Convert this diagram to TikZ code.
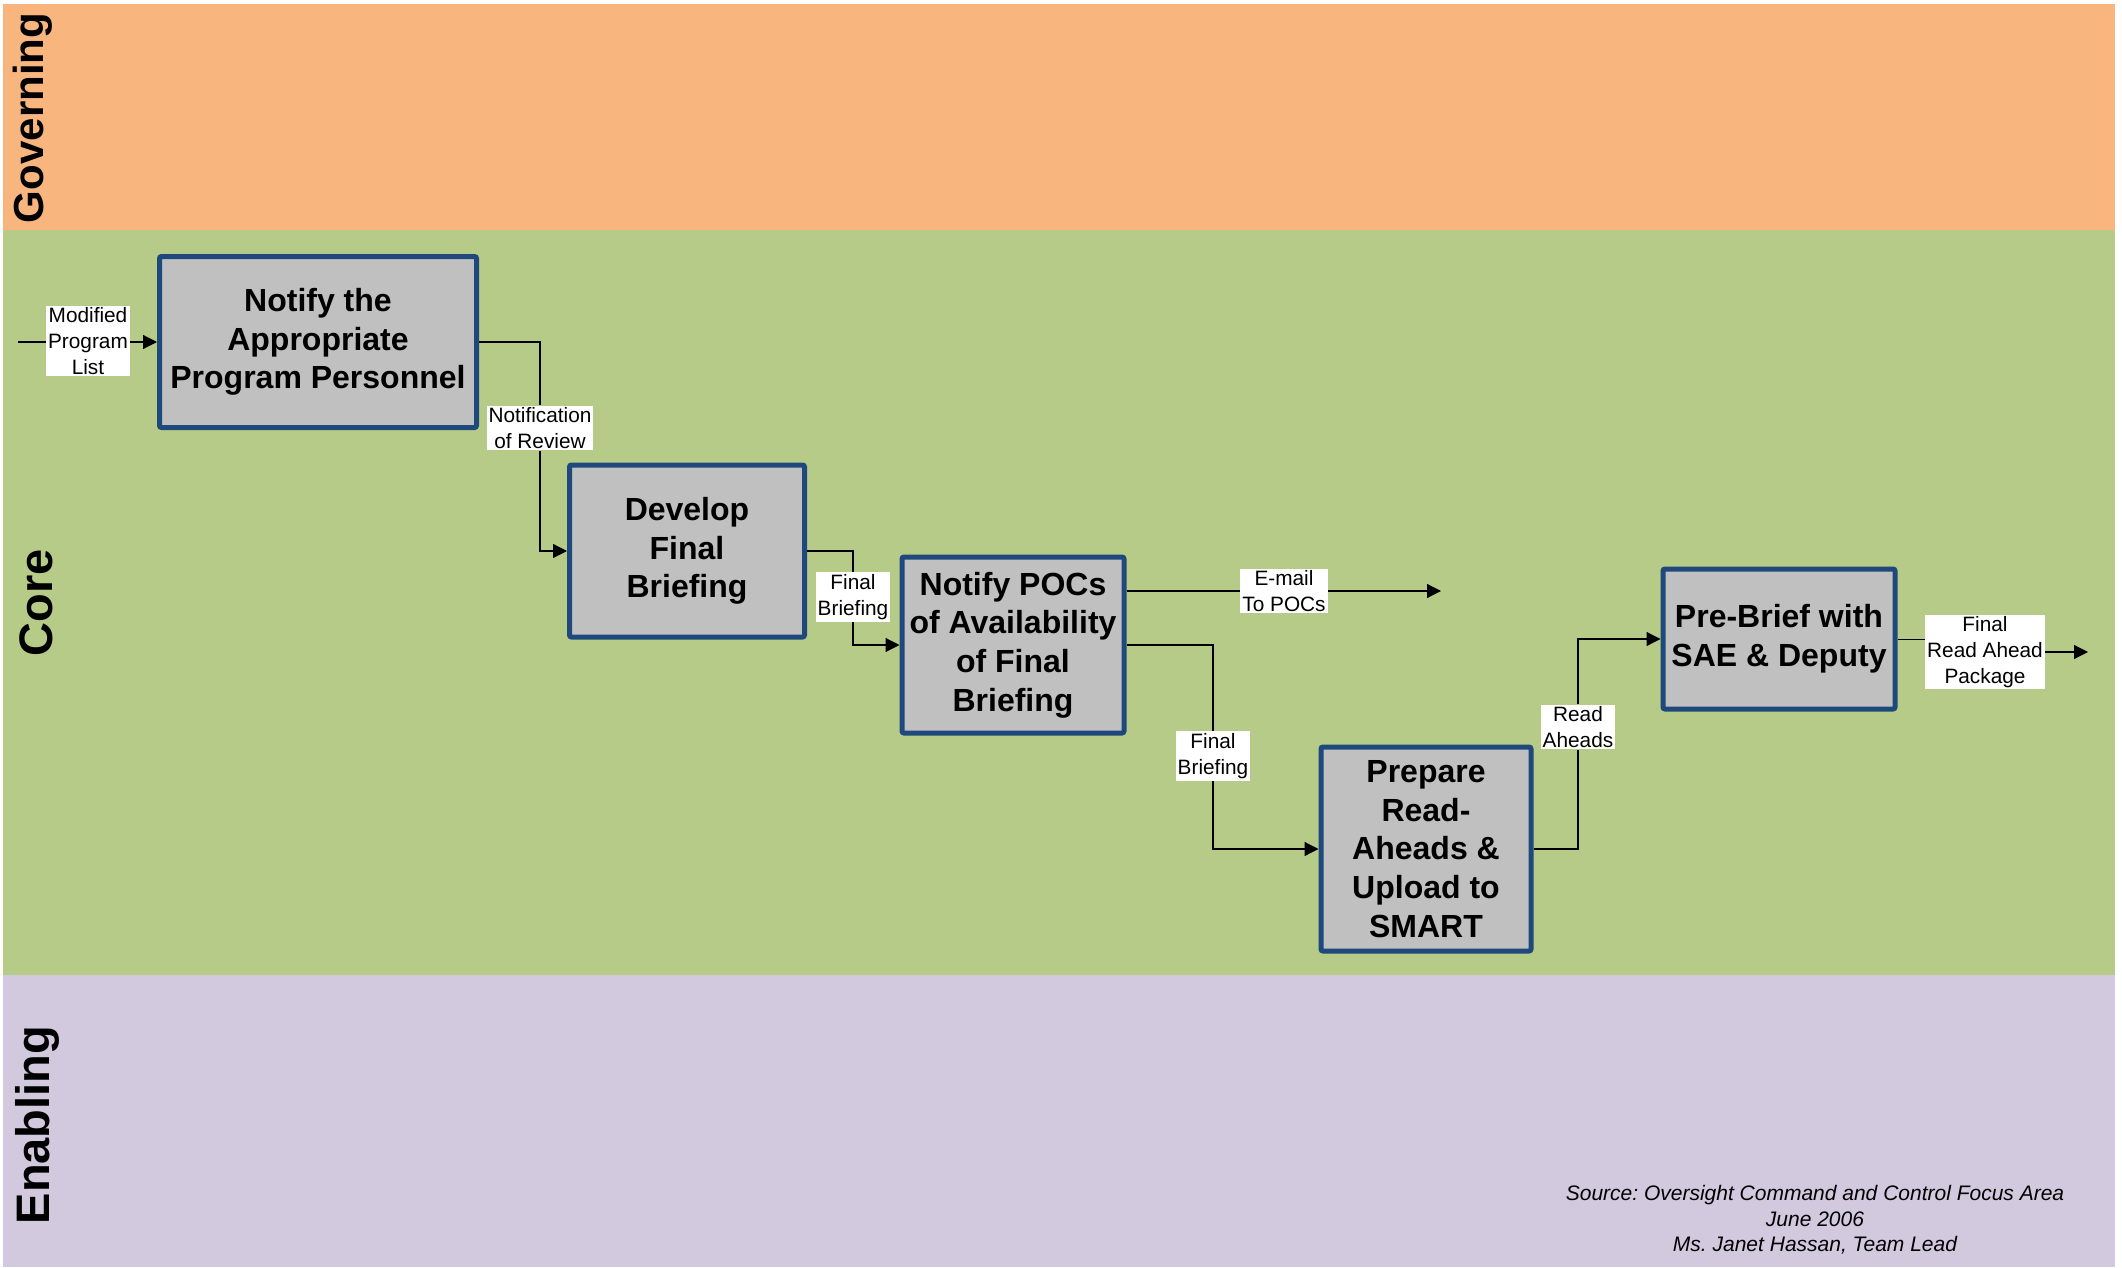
\documentclass[tikz,border=0pt]{standalone}
\usepackage{fontspec}
\setmainfont{Liberation Sans}
\usetikzlibrary{arrows.meta,positioning}
\definecolor{govorange}{RGB}{248,181,126}
\definecolor{coregreen}{RGB}{182,203,136}
\definecolor{enablelilac}{RGB}{210,201,223}
\definecolor{procgray}{RGB}{192,192,192}
\definecolor{procblue}{RGB}{31,73,125}
\pgfdeclarelayer{bands}
\pgfdeclarelayer{wires}
\pgfsetlayers{bands,wires,main}
\frenchspacing
\begin{document}
\begin{tikzpicture}[x=0.5pt,y=0.5pt,yscale=-1,
  proc/.style={draw=procblue,fill=procgray,line width=2.5pt,rounded corners=1pt,align=center,inner sep=0pt,font=\bfseries\fontsize{16}{19.3}\selectfont},
  tag/.style={fill=white,align=center,inner sep=1pt,font=\fontsize{10.4}{12.85}\selectfont},
  lane/.style={rotate=90,inner sep=0pt,font=\bfseries\fontsize{23.5}{24}\selectfont},
  flow/.style={-{Triangle[length=7pt,width=7pt]},line width=0.6pt}]
\begin{pgfonlayer}{bands}
\fill[white] (0,0) rectangle (2122,1268);
\fill[govorange] (3,4) rectangle (2115,230);
\fill[coregreen] (3,230) rectangle (2115,975);
\fill[enablelilac] (3,975) rectangle (2115,1267);
\end{pgfonlayer}
\node[lane,font=\bfseries\fontsize{21}{22}\selectfont] (gov) at (33,118) {Governing};
\node[lane] (core) at (36,603) {Core};
\node[lane] (enab) at (37,1125) {Enabling};
\node[proc,minimum width=158.5pt,minimum height=85.5pt] (notify) at (318,342) {Notify the\\Appropriate\\Program Personnel};
\node[proc,minimum width=117.5pt,minimum height=86pt] (develop) at (687,551) {Develop\\Final\\Briefing};
\node[proc,minimum width=111pt,minimum height=88pt] (notifypoc) at (1013,645) {Notify POCs\\of Availability\\of Final\\Briefing};
\node[proc,minimum width=105pt,minimum height=102pt] (prepare) at (1426,849) {Prepare\\Read-\\Aheads \&\\Upload to\\SMART};
\node[proc,minimum width=116pt,minimum height=70pt] (prebrief) at (1779,639) {Pre-Brief with\\SAE \& Deputy};
\node[tag] (mpl) at (88,341) {Modified\\Program\\List};
\node[tag] (nor) at (540,428) {Notification\\of Review};
\node[tag] (fbA) at (853,597) {Final\\Briefing};
\node[tag] (mail) at (1284,591) {E-mail\\To POCs};
\node[tag] (fbB) at (1213,756) {Final\\Briefing};
\node[tag] (rah) at (1578,727) {Read\\Aheads};
\node[tag] (frap) at (1985,652) {Final\\Read Ahead\\Package};
\coordinate (src) at (18,342);
\coordinate (mailend) at (1441,591);
\coordinate (frapend) at (2088,652);
\node[align=center,font=\itshape\fontsize{10.5}{12.85}\selectfont] (credit) at (1815,1220) {Source: Oversight Command and Control Focus Area\\June 2006\\Ms. Janet Hassan, Team Lead};
\begin{pgfonlayer}{wires}
\draw[flow] (src) -- (notify.west);
\draw[flow] (notify.east) -| (nor) |- (develop.west);
\draw[flow] (develop.east) -| (fbA) |- (notifypoc.west);
\draw[flow] (notifypoc.east |- mail) -- (mailend);
\draw[flow] (notifypoc.east) -| (fbB) |- (prepare.west);
\draw[flow] (prepare.east) -| (rah) |- (prebrief.west);
\draw (prebrief.east) -- (prebrief.east -| frap.west);
\draw[flow] (frap.east) -- (frapend);
\end{pgfonlayer}
\end{tikzpicture}
\end{document}
